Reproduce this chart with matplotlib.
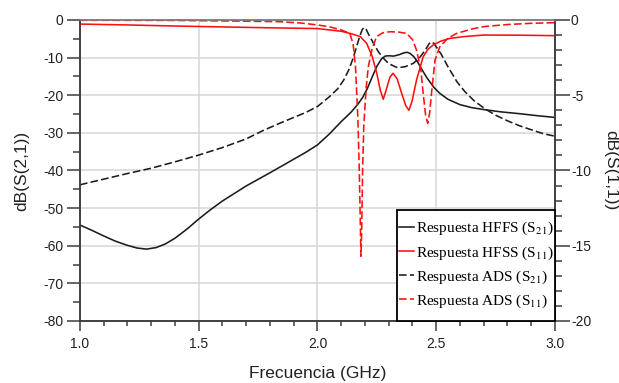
import matplotlib
matplotlib.use("Agg")
import matplotlib.pyplot as plt
from matplotlib.ticker import MultipleLocator
from matplotlib.patches import Rectangle
from matplotlib.font_manager import FontProperties

plt.rcParams["font.family"] = ["Liberation Sans", "DejaVu Sans"]
plt.rcParams["axes.unicode_minus"] = False
plt.rcParams["mathtext.fontset"] = "stix"

# HFSS S21 (left axis, dB)
HFSS_S21_F = [1.0, 1.05, 1.1, 1.15, 1.2, 1.24, 1.28, 1.32, 1.36, 1.4, 1.45,
              1.5, 1.55, 1.6, 1.7, 1.8, 1.9, 1.95, 2.0, 2.05, 2.1, 2.14,
              2.17, 2.19, 2.21, 2.23, 2.25, 2.27, 2.285, 2.3, 2.32, 2.345,
              2.365, 2.378, 2.39, 2.405, 2.42, 2.44, 2.46, 2.49, 2.515, 2.55,
              2.6, 2.65, 2.7, 2.77, 2.85, 2.92, 3.0]
HFSS_S21_DB = [-54.5, -55.9, -57.4, -58.8, -59.9, -60.6, -60.9, -60.5, -59.5,
               -58.0, -55.6, -52.9, -50.4, -48.1, -44.1, -40.6, -37.0, -35.2,
               -33.2, -30.3, -27.0, -24.6, -22.4, -20.6, -18.2, -15.2, -12.3,
               -10.3, -9.6, -9.5, -9.6, -9.2, -8.7, -8.6, -8.9, -9.7, -11.0,
               -13.2, -15.3, -17.9, -19.5, -21.1, -22.5, -23.3, -23.8, -24.4,
               -24.9, -25.4, -25.9]

# ADS S21 (left axis, dB)
ADS_S21_F = [1.0, 1.1, 1.2, 1.3, 1.4, 1.5, 1.6, 1.7, 1.77, 1.85, 1.9, 1.95,
             2.0, 2.05, 2.085, 2.11, 2.13, 2.15, 2.165, 2.178, 2.188, 2.196,
             2.205, 2.215, 2.236, 2.258, 2.278, 2.3, 2.337, 2.37, 2.404, 2.43,
             2.454, 2.47, 2.479, 2.49, 2.505, 2.52, 2.55, 2.587, 2.62, 2.66,
             2.705, 2.75, 2.8, 2.85, 2.906, 2.95, 3.0]
ADS_S21_DB = [-43.8, -42.3, -40.8, -39.4, -37.7, -35.9, -33.9, -31.6, -29.4,
              -27.2, -25.9, -24.6, -23.0, -20.4, -18.3, -16.0, -13.5, -10.2,
              -7.0, -4.3, -2.6, -2.0, -2.5, -3.8, -6.2, -8.6, -10.2, -11.6,
              -12.7, -12.4, -11.5, -10.0, -8.0, -6.3, -5.8, -6.2, -7.6, -9.0,
              -12.5, -16.4, -19.0, -21.5, -23.6, -25.3, -26.8, -28.1, -29.3,
              -30.2, -30.9]

# HFSS S11 (right axis, dB)
HFSS_S11_F = [1.0, 1.2, 1.4, 1.6, 1.8, 2.0, 2.1, 2.137, 2.18, 2.207, 2.23,
              2.249, 2.265, 2.277, 2.29, 2.305, 2.318, 2.335, 2.355, 2.372,
              2.385, 2.398, 2.417, 2.445, 2.465, 2.487, 2.52, 2.558, 2.62,
              2.7, 2.85, 3.0]
HFSS_S11_DB = [-0.27, -0.33, -0.40, -0.46, -0.52, -0.57, -0.75, -0.89, -1.1,
               -1.55, -2.4, -3.5, -4.7, -5.27, -4.6, -3.8, -3.54, -3.9, -4.9,
               -5.7, -6.0, -5.4, -3.99, -2.44, -1.95, -1.66, -1.40, -1.22,
               -1.10, -1.00, -1.01, -1.04]

# ADS S11 (right axis, dB)
ADS_S11_F = [1.0, 1.4, 1.7, 1.834, 1.93, 2.0, 2.05, 2.1, 2.136, 2.15, 2.16,
             2.17, 2.176, 2.181, 2.183, 2.186, 2.19, 2.195, 2.205, 2.214,
             2.23, 2.249, 2.275, 2.305, 2.34, 2.375, 2.4, 2.417, 2.435, 2.445,
             2.455, 2.464, 2.472, 2.48, 2.495, 2.515, 2.55, 2.586, 2.65, 2.7,
             2.8, 2.9, 3.0]
ADS_S11_DB = [-0.02, -0.03, -0.08, -0.11, -0.2, -0.33, -0.45, -0.66, -0.89,
              -1.6, -3.1, -6.5, -10.0, -14.0, -15.7, -14.0, -10.0, -7.0, -4.5,
              -3.1, -1.9, -1.1, -0.85, -0.78, -0.8, -0.89, -1.3, -2.0, -3.3,
              -4.87, -6.3, -6.87, -6.2, -4.87, -2.66, -1.77, -1.2, -0.89, -0.6,
              -0.44, -0.3, -0.22, -0.18]

LABELS = ["Respuesta HFFS (S$_{21}$)", "Respuesta HFSS (S$_{11}$)",
          "Respuesta ADS (S$_{21}$)", "Respuesta ADS (S$_{11}$)"]

BLACK = "#1c1c1c"
RED = "#ff1010"
SPINE = "#3c3c3c"
DASH = (0, (4.8, 2.0))
LW = 1.15


def main():
    fig = plt.figure(figsize=(6.19, 3.83), dpi=100)
    ax = fig.add_axes([0.1292, 0.1619, 0.7674, 0.7859])
    ax2 = ax.twinx()

    h1, = ax.plot(HFSS_S21_F, HFSS_S21_DB, color=BLACK, lw=LW)
    h3, = ax.plot(ADS_S21_F, ADS_S21_DB, color=BLACK, lw=LW, linestyle=DASH)
    h2, = ax2.plot(HFSS_S11_F, HFSS_S11_DB, color=RED, lw=LW)
    h4, = ax2.plot(ADS_S11_F, ADS_S11_DB, color=RED, lw=LW, linestyle=DASH)

    ax.set_xlim(1.0, 3.0)
    ax.set_ylim(-80, 0)
    ax2.set_ylim(-20, 0)

    ax.xaxis.set_major_locator(MultipleLocator(0.5))
    ax.xaxis.set_minor_locator(MultipleLocator(0.1))
    ax.yaxis.set_major_locator(MultipleLocator(10))
    ax.yaxis.set_minor_locator(MultipleLocator(5))
    ax2.yaxis.set_major_locator(MultipleLocator(5))
    ax2.yaxis.set_minor_locator(MultipleLocator(1))

    ax.grid(True, which="major", color="#d6d6d6", lw=1.1)
    ax.set_axisbelow(True)

    for a in (ax, ax2):
        for side in ("left", "right", "bottom"):
            a.spines[side].set_color(SPINE)
            a.spines[side].set_linewidth(1.1)
        a.spines["top"].set_color("#808080")
        a.spines["top"].set_linewidth(1.1)

    ax.tick_params(axis="y", which="major", direction="out", length=9.4,
                   width=1.1, pad=2.4, colors=SPINE, labelsize=10,
                   labelcolor="#222222")
    ax.tick_params(axis="y", which="minor", direction="out", length=5,
                   width=1.1, colors=SPINE)
    ax.tick_params(axis="x", which="major", direction="out", length=7.2,
                   width=1.1, pad=4, colors=SPINE, labelsize=10,
                   labelcolor="#222222")
    ax.tick_params(axis="x", which="minor", direction="out", length=3.6,
                   width=1.1, colors=SPINE)
    ax2.tick_params(axis="y", which="major", direction="out", length=10.8,
                    width=1.1, pad=0.7, colors=SPINE, labelsize=10,
                    labelcolor="#222222")
    ax2.tick_params(axis="y", which="minor", direction="out", length=5,
                    width=1.1, colors=SPINE)

    ax.set_xlabel("Frecuencia (GHz)", fontsize=12.5, color="#222222")
    ax.xaxis.set_label_coords(0.5, -0.15)
    ax.set_ylabel("dB(S(2,1))", fontsize=12.5, color="#222222")
    ax.yaxis.set_label_coords(-0.107, 0.5)
    ax2.set_ylabel("dB(S(1,1))", fontsize=12.5, color="#222222",
                   rotation=270, va="bottom")
    ax2.yaxis.set_label_coords(1.101, 0.5)

    frame = Rectangle((0.6674, 0.0), 0.3326, 0.3688, transform=ax2.transAxes,
                      facecolor="white", edgecolor="black", lw=1.3,
                      zorder=4, clip_on=False)
    ax2.add_patch(frame)

    leg = ax2.legend([h1, h2, h3, h4], LABELS, loc="center",
                     bbox_to_anchor=(0.834, 0.186), frameon=False,
                     prop=FontProperties(family="Liberation Serif", size=11),
                     handlelength=1.0, handletextpad=0.15,
                     labelspacing=0.45, borderpad=0)
    leg.set_zorder(5)

    fig.savefig("out.png", dpi=100)
    plt.close(fig)


if __name__ == "__main__":
    main()
